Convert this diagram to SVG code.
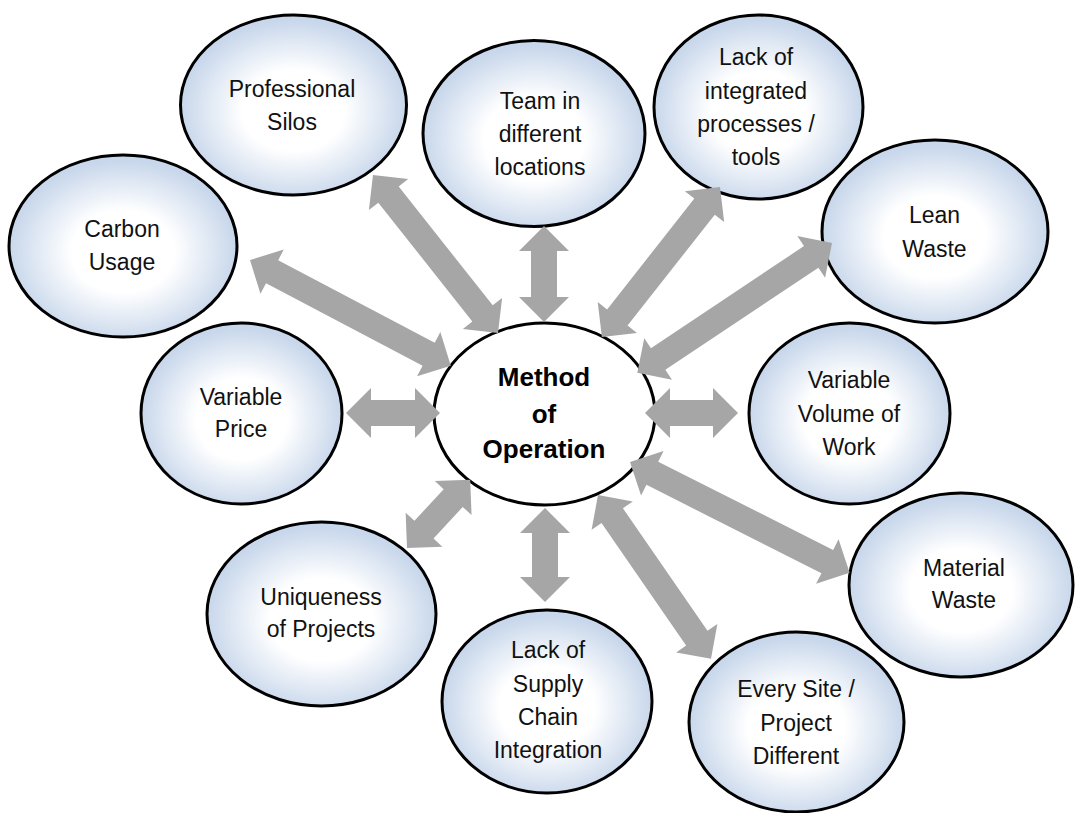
<svg xmlns="http://www.w3.org/2000/svg" width="1075" height="813" viewBox="0 0 1075 813">
<defs>
<radialGradient id="g" cx="50%" cy="53%" r="50%">
<stop offset="0" stop-color="#FFFFFF"/>
<stop offset="0.45" stop-color="#FFFFFF"/>
<stop offset="1" stop-color="#C8D7EB"/>
</radialGradient>
<style>
.n{fill:url(#g);stroke:#000;stroke-width:3}
.c{fill:#fff;stroke:#000;stroke-width:3}
.t{font-family:"Liberation Sans",Arial,sans-serif;font-size:23px;fill:#111;text-anchor:middle}
.b{font-family:"Liberation Sans",Arial,sans-serif;font-size:26px;font-weight:bold;fill:#000;text-anchor:middle}
.a{fill:#A6A6A6}
</style>
</defs>
<rect width="1075" height="813" fill="#fff"/>
<g id="professional-silos"><ellipse class="n" cx="293.5" cy="105" rx="113" ry="90"/><text class="t" x="292" y="97">Professional</text><text class="t" x="292" y="130">Silos</text></g>
<g id="carbon-usage"><ellipse class="n" cx="123" cy="246" rx="114" ry="91"/><text class="t" x="122" y="237">Carbon</text><text class="t" x="122" y="270">Usage</text></g>
<g id="team-locations"><ellipse class="n" cx="534" cy="133.5" rx="111" ry="93"/><text class="t" x="540" y="109">Team in</text><text class="t" x="540" y="142">different</text><text class="t" x="540" y="175">locations</text></g>
<g id="lack-integrated"><ellipse class="n" cx="758.5" cy="107" rx="104.5" ry="92"/><text class="t" x="756" y="65">Lack of</text><text class="t" x="756" y="99">integrated</text><text class="t" x="756" y="132">processes /</text><text class="t" x="756" y="165">tools</text></g>
<g id="lean-waste"><ellipse class="n" cx="935" cy="231.5" rx="113" ry="91.5"/><text class="t" x="934.5" y="223">Lean</text><text class="t" x="934.5" y="257">Waste</text></g>
<g id="variable-price"><ellipse class="n" cx="241.5" cy="413.5" rx="100.5" ry="90.5"/><text class="t" x="241" y="405">Variable</text><text class="t" x="241" y="437">Price</text></g>
<g id="method-of-operation"><ellipse class="c" cx="544.5" cy="414" rx="110.5" ry="91"/><text class="b" x="544" y="386">Method</text><text class="b" x="544" y="423">of</text><text class="b" x="544" y="458">Operation</text></g>
<g id="variable-volume"><ellipse class="n" cx="849.5" cy="413.5" rx="100.5" ry="90.5"/><text class="t" x="849" y="388">Variable</text><text class="t" x="849" y="422">Volume of</text><text class="t" x="849" y="455">Work</text></g>
<g id="uniqueness"><ellipse class="n" cx="321.5" cy="614" rx="114.5" ry="92"/><text class="t" x="321" y="605">Uniqueness</text><text class="t" x="321" y="637">of Projects</text></g>
<g id="supply-chain"><ellipse class="n" cx="547" cy="701.5" rx="105" ry="91.5"/><text class="t" x="548" y="658">Lack of</text><text class="t" x="548" y="692">Supply</text><text class="t" x="548" y="725">Chain</text><text class="t" x="548" y="758">Integration</text></g>
<g id="material-waste"><ellipse class="n" cx="961" cy="585" rx="112" ry="92"/><text class="t" x="964" y="576">Material</text><text class="t" x="964" y="608">Waste</text></g>
<g id="every-site"><ellipse class="n" cx="796.5" cy="722" rx="107.5" ry="90"/><text class="t" x="796" y="697">Every Site /</text><text class="t" x="796" y="731">Project</text><text class="t" x="796" y="764">Different</text></g>
<g id="connectors">
<polygon class="a" transform="translate(346,413)" points="0,0 25,-25 25,-13 69,-13 69,-25 94,0 69,25 69,13 25,13 25,25"/>
<polygon class="a" transform="translate(645,413)" points="0,0 25,-25 25,-13 68,-13 68,-25 93,0 68,25 68,13 25,13 25,25"/>
<polygon class="a" transform="translate(544,226) rotate(90)" points="0,0 25,-25 25,-13 71,-13 71,-25 96,0 71,25 71,13 25,13 25,25"/>
<polygon class="a" transform="translate(545,508) rotate(90)" points="0,0 25,-25 25,-13 69,-13 69,-25 94,0 69,25 69,13 25,13 25,25"/>
<polygon class="a" transform="translate(250,260) rotate(27.8)" points="0,0 25,-25 25,-13 202,-13 202,-25 227,0 202,25 202,13 25,13 25,25"/>
<polygon class="a" transform="translate(373,175) rotate(51.65)" points="0,0 25,-25 25,-13 176.5,-13 176.5,-25 201.5,0 176.5,25 176.5,13 25,13 25,25"/>
<polygon class="a" transform="translate(720,187) rotate(128.2)" points="0,0 25,-25 25,-13 166,-13 166,-25 191,0 166,25 166,13 25,13 25,25"/>
<polygon class="a" transform="translate(832,243) rotate(146.3)" points="0,0 25,-25 25,-13 209,-13 209,-25 234,0 209,25 209,13 25,13 25,25"/>
<polygon class="a" transform="translate(630,462) rotate(26.77)" points="0,0 25,-25 25,-13 221,-13 221,-25 246,0 221,25 221,13 25,13 25,25"/>
<polygon class="a" transform="translate(598,495) rotate(55.4)" points="0,0 25,-25 25,-13 174,-13 174,-25 199,0 174,25 174,13 25,13 25,25"/>
<polygon class="a" transform="translate(407,548) rotate(-47.2)" points="0,0 25,-25 25,-13 68,-13 68,-25 93,0 68,25 68,13 25,13 25,25"/>
</g>
</svg>
